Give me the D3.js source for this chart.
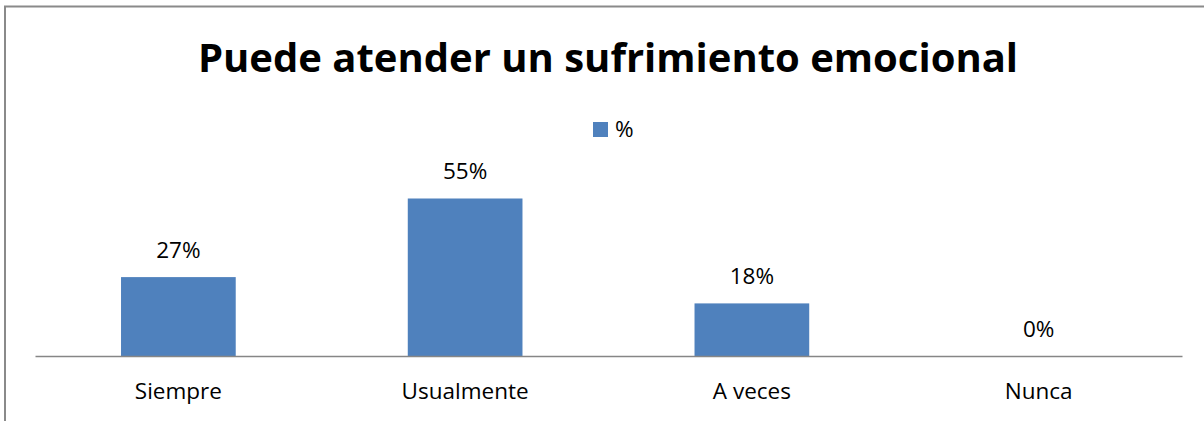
<!DOCTYPE html>
<html>
<head>
<meta charset="utf-8">
<script src="https://cdn.jsdelivr.net/npm/d3@7"></script>
<style>
  html, body { margin: 0; padding: 0; background: #fff; }
  svg { display: block; font-family: "Open Sans", sans-serif; }
</style>
</head>
<body>
<svg id="chart" width="1204" height="421"></svg>
<script>
// data
var categories = ["Siempre", "Usualmente", "A veces", "Nunca"];
var values = [27.3, 54.5, 18.2, 0];
var seriesName = "%";
var title = "Puede atender un sufrimiento emocional";

var chart = {};

chart.build = function(sel){
    var svg = d3.select(sel);

    // outer border (runs off right and bottom edges)
    svg.append("rect")
        .attr("x", 5).attr("y", 6.5)
        .attr("width", 1300).attr("height", 500)
        .attr("fill", "none")
        .attr("stroke", "#8a8a8a")
        .attr("stroke-width", 2);

    var x = d3.scaleBand()
        .domain(categories)
        .range([35, 1182])
        .paddingInner(0.6)
        .paddingOuter(0.3);

    var y = d3.scaleLinear()
        .domain([0, 60])
        .range([356, 182.6]);

    svg.append("text")
        .attr("x", 608).attr("y", 72)
        .attr("text-anchor", "middle")
        .attr("font-size", 40)
        .attr("font-weight", "bold")
        .attr("fill", "#000")
        .text(title);

    // legend
    var lg = svg.append("g").attr("transform", "translate(593,122)");
    lg.append("rect").attr("width", 15).attr("height", 15).attr("fill", "#4F81BD");
    lg.append("text").attr("x", 22).attr("y", 15)
        .attr("font-size", 22.5).attr("fill", "#000").text(seriesName);

    svg.selectAll("rect.bar")
        .data(values)
        .enter()
        .append("rect")
        .attr("class", "bar")
        .attr("x", function(d, i){ return x(categories[i]); })
        .attr("y", function(d){ return y(d); })
        .attr("width", x.bandwidth())
        .attr("height", function(d){ return y(0) - y(d); })
        .attr("fill", "#4F81BD");

    var fmt = d3.format(".0f");
    svg.selectAll("text.lbl")
        .data(values)
        .enter()
        .append("text")
        .attr("class", "lbl")
        .attr("x", function(d, i){ return x(categories[i]) + x.bandwidth() / 2; })
        .attr("y", function(d){ return y(d) - 19; })
        .attr("text-anchor", "middle")
        .attr("font-size", 22.5)
        .attr("fill", "#000")
        .text(function(d){ return fmt(d) + "%"; });

    var axis = d3.axisBottom(x).tickSize(0).tickPadding(0);
    var g = svg.append("g")
        .attr("transform", "translate(0," + y(0) + ")")
        .call(axis);
    g.select(".domain").attr("stroke", "#868686").attr("stroke-width", 1.5);
    g.selectAll(".tick text")
        .attr("font-size", 22.5)
        .attr("font-family", "Open Sans, sans-serif")
        .attr("fill", "#000")
        .attr("dy", null)
        .attr("y", 43);
};

chart.build("#chart");
</script>
</body>
</html>
